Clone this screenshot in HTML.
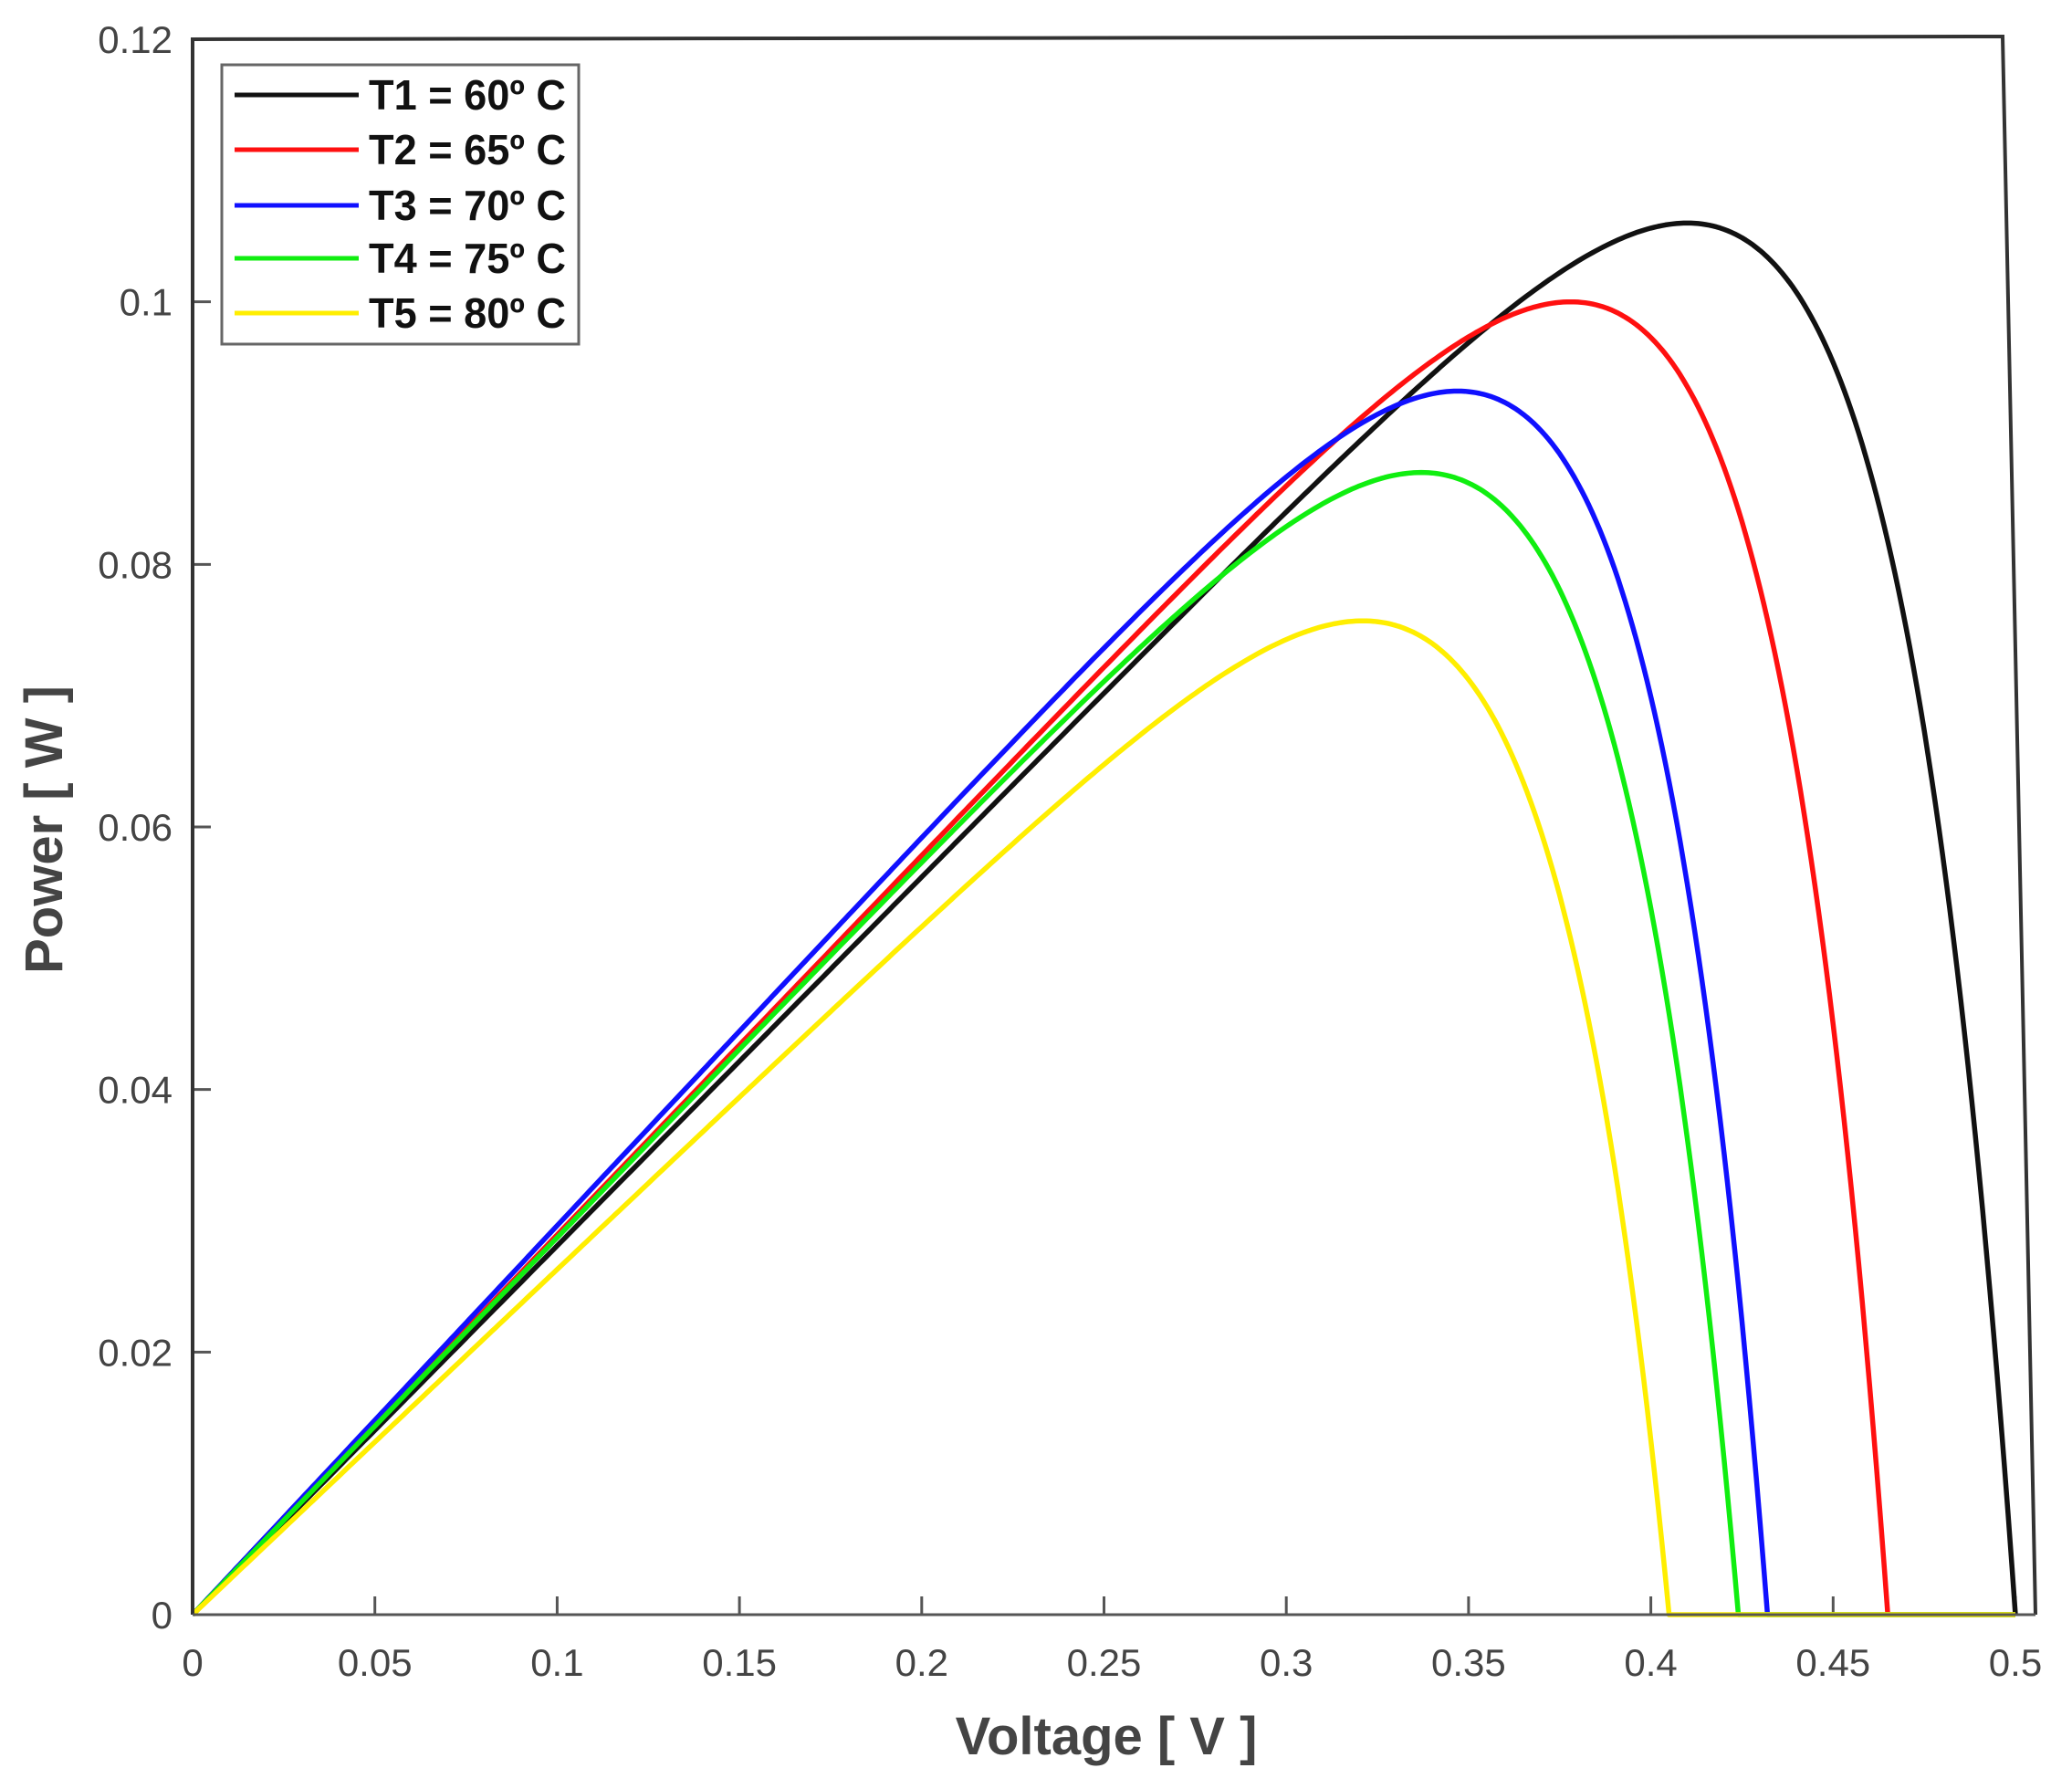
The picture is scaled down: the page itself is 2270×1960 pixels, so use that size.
<!DOCTYPE html>
<html><head><meta charset="utf-8"><style>
html,body{margin:0;padding:0;background:#fff;}
svg{display:block;}
text{font-family:"Liberation Sans",Arial,sans-serif;}
</style></head><body>
<svg id="s" width="2270" height="1960" viewBox="0 0 2270 1960" xmlns="http://www.w3.org/2000/svg">
<rect width="2270" height="1960" fill="#fff"/>
<g id="ticks" stroke="#555" stroke-width="3"></g>
<g id="curves" fill="none" stroke-width="5.5" stroke-linejoin="round"></g>
<polyline points="211,1769 211,43 2194,40 2230,1769" fill="none" stroke="#333" stroke-width="4"/>
<line x1="211" y1="1769" x2="2230" y2="1769" stroke="#555" stroke-width="3"/>
<g id="labels" fill="#444" font-size="42"></g>
<text x="1212" y="1922" font-size="58" font-weight="bold" fill="#444" text-anchor="middle">Voltage [ V ]</text>
<text transform="translate(68,909) rotate(-90)" font-size="58" font-weight="bold" fill="#444" text-anchor="middle">Power [ W ]</text>
<rect x="243" y="71" width="391" height="306" fill="#fff" stroke="#666" stroke-width="3"/>
<g id="legend" font-size="46" font-weight="bold" fill="#111"></g>
</svg>
<script>
var X=function(v){return 211+v/0.5*1997;}, Y=function(p){return 1769-p/0.12*1726;};
var ns="http://www.w3.org/2000/svg";
function el(t,a,par,txt){var e=document.createElementNS(ns,t);for(var k in a)e.setAttribute(k,a[k]);if(txt)e.textContent=txt;document.getElementById(par).appendChild(e);return e;}
var xl=["0","0.05","0.1","0.15","0.2","0.25","0.3","0.35","0.4","0.45","0.5"];
for(var i=0;i<=10;i++){var x=X(i*0.05);el("line",{x1:x,y1:1769,x2:x,y2:1749},"ticks");el("text",{x:x,y:1836,"text-anchor":"middle"},"labels",xl[i]);}
var yl=["0","0.02","0.04","0.06","0.08","0.1","0.12"];
for(var j=0;j<=6;j++){var y=Y(j*0.02);el("line",{x1:211,y1:y,x2:231,y2:y},"ticks");el("text",{x:189,y:y+15,"text-anchor":"end"},"labels",yl[j]);}
var cs=[["#111",0.5,0.41,0.106],["#ff1010",0.465,0.378,0.100],["#1010ff",0.432,0.347,0.0932],["#10ee10",0.424,0.337,0.087],["#ffee00",0.405,0.321,0.0757]];
var names=["T1 = 60º C","T2 = 65º C","T3 = 70º C","T4 = 75º C","T5 = 80º C"];
cs.forEach(function(c,k){
 var voc=c[1],vm=c[2],pm=c[3];
 var lo=0.001,hi=0.2;
 for(var it=0;it<60;it++){var a=(lo+hi)/2;var e=Math.exp((vm-voc)/a);var g=e*(1+vm/a);if(g>1)hi=a;else lo=a;}
 var a=(lo+hi)/2;var isc=pm/(vm*(1-Math.exp((vm-voc)/a)));
 var pts=[];
 for(var v=0;v<=0.5001;v+=0.001){var p=isc*v*(1-Math.exp((v-voc)/a));if(p<0)p=0;pts.push(X(v).toFixed(1)+","+Y(p).toFixed(1));}
 el("polyline",{points:pts.join(" "),stroke:c[0]},"curves");
 var ly=[104,164,225,283,343][k];
 el("line",{x1:257,y1:ly,x2:393,y2:ly,stroke:c[0],"stroke-width":5},"legend");
 el("text",{x:404,y:ly+16,textLength:216,lengthAdjust:"spacingAndGlyphs"},"legend",names[k]);
});
</script>
</body></html>
